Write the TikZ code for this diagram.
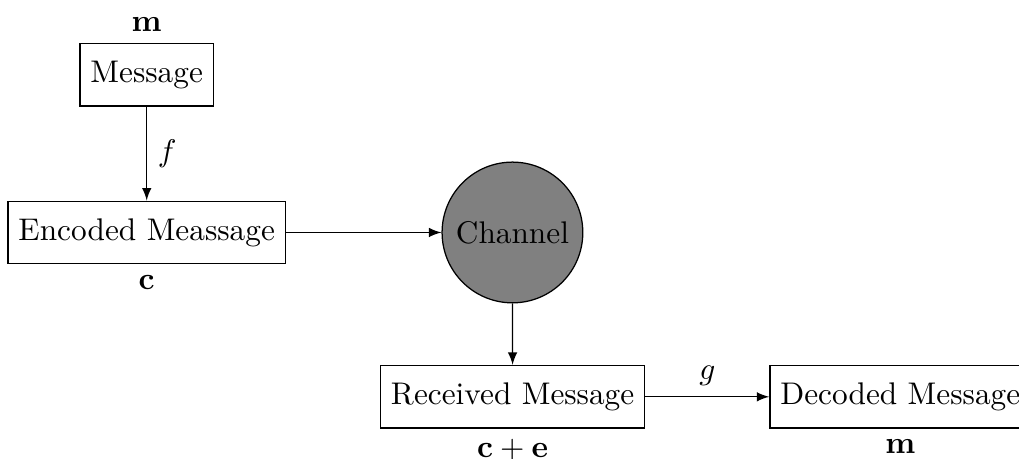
\documentclass[tikz,border=0pt]{standalone}
\usepackage{amsmath,amssymb}
\usepackage{tikz}

\tikzset{
  msgbox/.style={draw, minimum height=2em},
  chan/.style={draw, circle, fill=gray, minimum size=1.58cm}
}

\begin{document}
\begin{tikzpicture}[>=latex]
\useasboundingbox (0,0) rectangle (11.44,-5.15);
\node[msgbox, label=above:$\mathbf{m}$] (msg) at (1.647,-0.839) {Message};
\node[msgbox, label=below:$\mathbf{c}$] (enc) at (1.647,-2.61) {Encoded Meassage};
\node[chan] (chan) at (5.753,-2.61) {Channel};
\node[msgbox, label={[inner sep=1pt, label distance=2.2pt]below:$\mathbf{c}+\mathbf{e}$}] (rec) at (5.755,-4.455) {Received Message};
\node[msgbox, label=below:$\mathbf{m}$] (dec) at (10.107,-4.455) {Decoded Message};
\draw[->] (msg) -- node[midway, right] {$f$} (enc);
\draw[->] (enc) -- (chan);
\draw[->] (chan) -- (rec);
\draw[->] (rec) -- node[midway, above] {$g$} (dec);
\end{tikzpicture}
\end{document}
